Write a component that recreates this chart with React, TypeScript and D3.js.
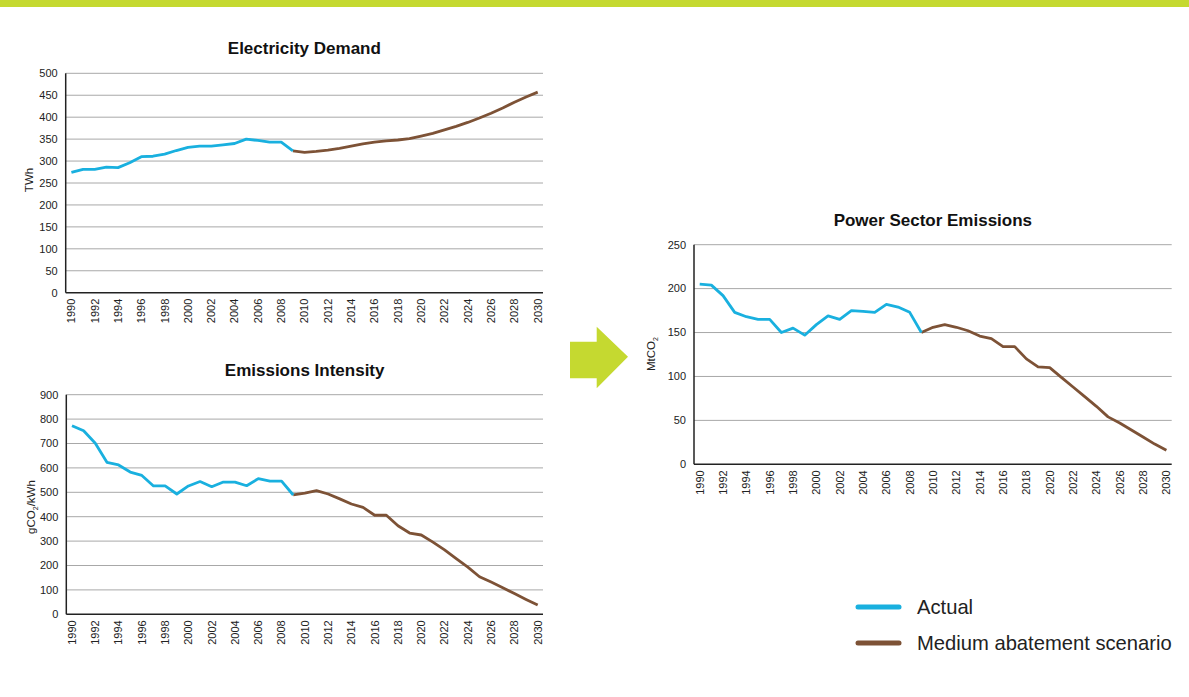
import React from "react";
import * as d3 from "d3";

const yearsActual = d3.range(1990, 2010);
const yearsScenario = d3.range(2009, 2031);
const allYears = d3.range(1990, 2031);
const yearTicks = d3.range(1990, 2031, 2);

const demandActual = [274, 281, 281, 286, 285, 296, 310, 311, 316, 324, 331, 334, 334, 337, 340, 350, 347, 343, 343, 323];
const demandScenario = [323, 320, 322, 325, 329, 334, 339, 343, 346, 348, 351, 357, 363, 371, 379, 388, 398, 409, 421, 434, 446, 457];

const intensityActual = [773, 752, 701, 623, 612, 583, 569, 526, 526, 493, 526, 544, 523, 542, 542, 527, 556, 546, 546, 489];
const intensityScenario = [489, 497, 507, 493, 473, 452, 438, 406, 406, 363, 333, 325, 296, 264, 228, 193, 154, 132, 109, 85, 61, 38];

const emissionsActual = [205, 204, 192, 173, 168, 165, 165, 150, 155, 147, 159, 169, 165, 175, 174, 173, 182, 179, 173, 150];
const emissionsScenario = [150, 156, 159, 156, 152, 146, 143, 134, 134, 120, 111, 110, 99, 88, 77, 66, 54, 47, 39, 31, 23, 16];

const legendLabels = ["Actual", "Medium abatement scenario"];

const BLUE = "#19b0df";
const BROWN = "#7d5236";
const GREEN = "#c5d930";
const FONT = "'Liberation Sans', Arial, sans-serif";

type ChartProps = {
  title: string;
  yLabel: React.ReactNode;
  left: number;
  right: number;
  top: number;
  bottom: number;
  yMax: number;
  yStep: number;
  actual: number[];
  scenario: number[];
  yLabelX: number;
  yLabelY: number;
};

function Chart(p: ChartProps) {
  const x = d3.scalePoint<number>().domain(allYears).range([p.left + 5.7, p.right - 5.3]);
  const y = d3.scaleLinear().domain([0, p.yMax]).range([p.bottom, p.top]);
  const ticks = d3.range(0, p.yMax + 1, p.yStep);
  const line = d3
    .line<[number, number]>()
    .x((d) => x(d[0]) as number)
    .y((d) => y(d[1]));
  const actualPts = yearsActual.map((yr, i) => [yr, p.actual[i]] as [number, number]);
  const scenPts = yearsScenario.map((yr, i) => [yr, p.scenario[i]] as [number, number]);
  return (
    <g>
      <text
        x={(p.left + p.right) / 2}
        y={p.top - 19}
        textAnchor="middle"
        fontSize={17}
        fontWeight="bold"
        fill="#111"
      >
        {p.title}
      </text>
      {ticks.map((t) => (
        <g key={t}>
          {t > 0 && (
            <line x1={p.left} x2={p.right} y1={y(t)} y2={y(t)} stroke="#a8a8a8" strokeWidth={1} />
          )}
          <text x={p.left - 8} y={y(t)} dy="0.35em" textAnchor="end" fontSize={11} fill="#222">
            {t}
          </text>
        </g>
      ))}
      <line x1={p.left} x2={p.left} y1={p.top} y2={p.bottom} stroke="#222" strokeWidth={1.5} />
      <line x1={p.left} x2={p.right} y1={p.bottom} y2={p.bottom} stroke="#222" strokeWidth={1.5} />
      {yearTicks.map((yr) => (
        <text
          key={yr}
          transform={`translate(${x(yr)},${p.bottom + 6}) rotate(-90)`}
          dy="0.35em"
          textAnchor="end"
          fontSize={11}
          fill="#222"
        >
          {yr}
        </text>
      ))}
      <text
        transform={`translate(${p.yLabelX},${p.yLabelY}) rotate(-90)`}
        textAnchor="middle"
        fontSize={11.5}
        fill="#222"
      >
        {p.yLabel}
      </text>
      <path d={line(scenPts) || ""} fill="none" stroke={BROWN} strokeWidth={2.8} strokeLinejoin="round" />
      <path d={line(actualPts) || ""} fill="none" stroke={BLUE} strokeWidth={2.8} strokeLinejoin="round" />
    </g>
  );
}

export default function App() {
  return (
    <svg width={1189} height={697} style={{ position: "absolute", left: 0, top: 0 }} fontFamily={FONT}>
      <rect x={0} y={0} width={1189} height={697} fill="#fff" />
      <rect x={0} y={0} width={1189} height={7} fill={GREEN} />
      <Chart
        title="Electricity Demand"
        yLabel="TWh"
        left={65.7}
        right={543}
        top={73.3}
        bottom={292.7}
        yMax={500}
        yStep={50}
        actual={demandActual}
        scenario={demandScenario}
        yLabelX={33}
        yLabelY={180}
      />
      <Chart
        title="Emissions Intensity"
        yLabel={
          <>
            gCO<tspan fontSize={7} dy={3}>2</tspan>
            <tspan dy={-3}>/kWh</tspan>
          </>
        }
        left={66.3}
        right={543}
        top={394.7}
        bottom={614.3}
        yMax={900}
        yStep={100}
        actual={intensityActual}
        scenario={intensityScenario}
        yLabelX={35}
        yLabelY={507}
      />
      <Chart
        title="Power Sector Emissions"
        yLabel={
          <>
            MtCO<tspan fontSize={7} dy={3}>2</tspan>
          </>
        }
        left={694}
        right={1171.7}
        top={244.7}
        bottom={464.3}
        yMax={250}
        yStep={50}
        actual={emissionsActual}
        scenario={emissionsScenario}
        yLabelX={655}
        yLabelY={354}
      />
      <polygon
        points="570,341.7 596.7,341.7 596.7,326.7 628,356.7 596.7,388.3 596.7,378.3 570,378.3"
        fill={GREEN}
      />
      {legendLabels.map((lab, i) => (
        <g key={lab} transform={`translate(0,${607 + i * 36})`}>
          <line x1={858} x2={899} y1={0} y2={0} stroke={i === 0 ? BLUE : BROWN} strokeWidth={5} strokeLinecap="round" />
          <text x={917} y={0} dy="0.35em" fontSize={20.2} fill="#222">
            {lab}
          </text>
        </g>
      ))}
    </svg>
  );
}
